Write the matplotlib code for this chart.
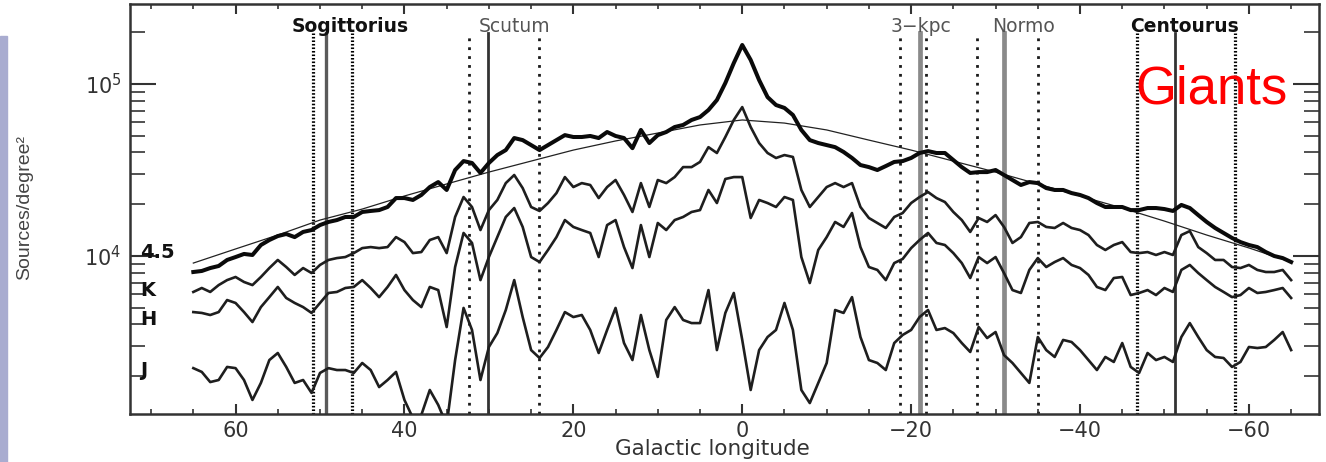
import numpy as np
import matplotlib
matplotlib.use('Agg')
import matplotlib.pyplot as plt
from matplotlib.ticker import MultipleLocator, LogLocator, NullFormatter
from matplotlib.patches import Rectangle

# galactic longitude of the profiles, read every 1 degree from l=65 to l=-65
lon = np.arange(65, -66, -1)

# log10(sources/degree^2)
log_45 = [3.907, 3.913, 3.930, 3.942, 3.977, 3.994, 4.012, 4.006, 4.064, 4.093,
          4.116, 4.128, 4.110, 4.140, 4.151, 4.180, 4.198, 4.209, 4.227, 4.227,
          4.256, 4.262, 4.267, 4.285, 4.337, 4.337, 4.326, 4.355, 4.401, 4.430,
          4.384, 4.500, 4.552, 4.541, 4.483, 4.541, 4.587, 4.616, 4.686, 4.674,
          4.645, 4.616, 4.645, 4.674, 4.703, 4.692, 4.692, 4.698, 4.686, 4.721,
          4.698, 4.686, 4.627, 4.733, 4.657, 4.703, 4.721, 4.750, 4.762, 4.791,
          4.808, 4.849, 4.907, 5.006, 5.122, 5.227, 5.140, 5.023, 4.924, 4.878,
          4.861, 4.820, 4.733, 4.674, 4.657, 4.645, 4.633, 4.605, 4.570, 4.529,
          4.517, 4.500, 4.523, 4.547, 4.552, 4.570, 4.599, 4.610, 4.599, 4.599,
          4.558, 4.517, 4.483, 4.488, 4.488, 4.500, 4.471, 4.442, 4.413, 4.430,
          4.424, 4.395, 4.384, 4.384, 4.366, 4.355, 4.337, 4.308, 4.285, 4.285,
          4.285, 4.267, 4.267, 4.279, 4.279, 4.273, 4.262, 4.297, 4.279, 4.238,
          4.198, 4.163, 4.134, 4.105, 4.081, 4.064, 4.052, 4.023, 4.000, 3.988,
          3.965]

log_k = [3.791, 3.814, 3.791, 3.831, 3.860, 3.878, 3.849, 3.831, 3.878, 3.930,
         3.977, 3.936, 3.890, 3.930, 3.901, 3.948, 3.977, 3.988, 3.994, 4.017,
         4.046, 4.052, 4.046, 4.052, 4.110, 4.081, 4.017, 4.023, 4.093, 4.110,
         4.017, 4.227, 4.343, 4.285, 4.151, 4.267, 4.326, 4.424, 4.471, 4.395,
         4.285, 4.262, 4.308, 4.366, 4.459, 4.401, 4.424, 4.413, 4.337, 4.401,
         4.442, 4.355, 4.256, 4.424, 4.285, 4.442, 4.424, 4.459, 4.517, 4.517,
         4.547, 4.633, 4.599, 4.692, 4.791, 4.866, 4.750, 4.657, 4.599, 4.570,
         4.587, 4.576, 4.384, 4.285, 4.343, 4.401, 4.424, 4.401, 4.424, 4.285,
         4.221, 4.192, 4.163, 4.227, 4.250, 4.308, 4.343, 4.372, 4.337, 4.314,
         4.256, 4.209, 4.140, 4.221, 4.198, 4.238, 4.169, 4.076, 4.110, 4.192,
         4.198, 4.169, 4.163, 4.192, 4.163, 4.151, 4.122, 4.064, 4.035, 4.064,
         4.081, 4.023, 4.017, 4.023, 4.006, 4.023, 4.006, 4.122, 4.145, 4.052,
         4.017, 3.977, 3.977, 3.936, 3.930, 3.948, 3.919, 3.907, 3.907, 3.919,
         3.860]

log_h = [3.674, 3.669, 3.657, 3.674, 3.744, 3.727, 3.674, 3.616, 3.703, 3.761,
         3.820, 3.756, 3.727, 3.703, 3.669, 3.727, 3.785, 3.791, 3.814, 3.820,
         3.860, 3.814, 3.761, 3.820, 3.890, 3.802, 3.744, 3.703, 3.820, 3.802,
         3.587, 3.936, 4.134, 4.076, 3.860, 3.994, 4.110, 4.227, 4.279, 4.169,
         3.994, 3.965, 4.035, 4.110, 4.209, 4.169, 4.151, 4.134, 3.994, 4.180,
         4.209, 4.052, 3.930, 4.180, 3.994, 4.192, 4.151, 4.209, 4.227, 4.256,
         4.267, 4.384, 4.308, 4.448, 4.459, 4.459, 4.221, 4.326, 4.308, 4.285,
         4.343, 4.326, 3.994, 3.843, 4.035, 4.110, 4.198, 4.169, 4.250, 4.052,
         3.936, 3.919, 3.860, 3.959, 3.983, 4.046, 4.093, 4.134, 4.076, 4.064,
         4.017, 3.959, 3.872, 3.994, 3.959, 3.994, 3.901, 3.802, 3.785, 3.919,
         3.988, 3.936, 3.965, 3.988, 3.948, 3.930, 3.890, 3.820, 3.802, 3.872,
         3.878, 3.773, 3.785, 3.802, 3.773, 3.814, 3.791, 3.919, 3.948, 3.901,
         3.860, 3.820, 3.791, 3.761, 3.773, 3.814, 3.785, 3.791, 3.802, 3.814,
         3.756]

log_j = [3.348, 3.326, 3.267, 3.279, 3.355, 3.348, 3.279, 3.163, 3.262, 3.395,
         3.436, 3.355, 3.262, 3.279, 3.204, 3.320, 3.348, 3.337, 3.337, 3.320,
         3.378, 3.337, 3.238, 3.279, 3.326, 3.163, 3.058, 3.076, 3.221, 3.134,
         3.018, 3.395, 3.698, 3.570, 3.279, 3.471, 3.552, 3.686, 3.860, 3.645,
         3.453, 3.407, 3.471, 3.570, 3.674, 3.645, 3.657, 3.570, 3.436, 3.570,
         3.698, 3.494, 3.395, 3.657, 3.453, 3.297, 3.628, 3.703, 3.628, 3.610,
         3.610, 3.802, 3.453, 3.669, 3.785, 3.512, 3.221, 3.453, 3.529, 3.570,
         3.727, 3.570, 3.221, 3.145, 3.262, 3.378, 3.686, 3.669, 3.761, 3.529,
         3.395, 3.378, 3.337, 3.494, 3.541, 3.570, 3.645, 3.686, 3.570, 3.581,
         3.552, 3.494, 3.442, 3.587, 3.523, 3.558, 3.424, 3.378, 3.320, 3.262,
         3.529, 3.453, 3.413, 3.512, 3.500, 3.453, 3.395, 3.337, 3.413, 3.384,
         3.494, 3.355, 3.320, 3.436, 3.395, 3.413, 3.384, 3.529, 3.610, 3.529,
         3.453, 3.413, 3.407, 3.355, 3.384, 3.471, 3.465, 3.471, 3.512, 3.558,
         3.453]

# smooth model curve
model_lon = [65, 60, 55, 50, 45, 40, 35, 30, 25, 20, 15, 10, 5, 0,
             -5, -10, -15, -20, -25, -30, -35, -40, -45, -50, -55, -60, -65]
log_model = [3.959, 4.041, 4.122, 4.209, 4.273, 4.349, 4.419, 4.488, 4.552,
             4.616, 4.669, 4.715, 4.762, 4.791, 4.773, 4.733, 4.674, 4.616,
             4.552, 4.488, 4.419, 4.349, 4.279, 4.203, 4.122, 4.047, 3.965]

# spiral arm tangents (solid) and their edges (dotted)
arm_names = ['Sogittorius', 'Scutum', '3\u2212kpc', 'Normo', 'Centourus']
arm_tangent = [49.3, 30.1, -21.0, -31.0, -51.2]
arm_edges = [(50.8, 46.2), (32.4, 24.1), (-18.7, -21.8), (-27.8, -35.0), (-46.8, -58.3)]

band_names = ['4.5', 'K', 'H', 'J']

# ---- styles / layout
label_lon = [46.4, 27.0, -21.2, -33.3, -52.4]
label_bold = [True, False, False, False, True]
solid_col = ['#5a5a5a', '#333333', '#8a8a8a', '#8a8a8a', '#333333']
solid_lw = [2.4, 2.0, 3.4, 3.4, 2.0]
dense_dots = [True, False, False, False, True]

fig = plt.figure(figsize=(13.26, 4.62), dpi=100)
fig.patches.append(Rectangle((0, 0), 7/1326, 426/462, transform=fig.transFigure,
                             color='#a9acd0', zorder=0))
ax = fig.add_axes([130/1326, 48/462, 1189/1326, 410/462])

for i in range(len(arm_names)):
    ax.axvline(arm_tangent[i], ymin=0, ymax=0.929, color=solid_col[i], lw=solid_lw[i], zorder=1)
    for e in arm_edges[i]:
        if dense_dots[i]:
            ax.axvline(e, ymin=0, ymax=0.929, color='#000000', lw=2.3,
                       linestyle=(0, (0.5, 0.6)), zorder=1)
        else:
            ax.axvline(e, ymin=0, ymax=0.929, color='#1a1a1a', lw=2.0,
                       linestyle=(0, (1, 2.2)), zorder=1)
    ax.text(label_lon[i], 0.944, arm_names[i], transform=ax.get_xaxis_transform(),
            ha='center', va='center', fontsize=13.5,
            fontweight='bold' if label_bold[i] else 'normal',
            color='#111111' if label_bold[i] else '#555555')

ax.plot(lon, 10**np.array(log_j), color='#1e1e1e', lw=1.9, zorder=3)
ax.plot(lon, 10**np.array(log_h), color='#1e1e1e', lw=1.9, zorder=3)
ax.plot(lon, 10**np.array(log_k), color='#1e1e1e', lw=1.9, zorder=3)
ax.plot(lon, 10**np.array(log_45), color='#0a0a0a', lw=2.9, zorder=4)
ax.plot(model_lon, 10**np.array(log_model), color='#222222', lw=0.9, zorder=3)

# band names at the left end of the curves
band_y = [10**4.023, 10**3.802, 10**3.632, 10**3.337]
for name, yv in zip(band_names, band_y):
    ax.text(71.3, yv, name, ha='left', va='center', fontsize=14,
            fontweight='bold', color='#111111')

ax.set_yscale('log')
ax.set_xlim(72.5, -68.3)
ax.set_ylim(1206, 2.92e5)

ax.xaxis.set_major_locator(MultipleLocator(20))
ax.xaxis.set_minor_locator(MultipleLocator(5))
ax.yaxis.set_major_locator(LogLocator(base=10, numticks=10))
ax.yaxis.set_minor_locator(LogLocator(base=10, subs=np.arange(2, 10), numticks=20))
ax.yaxis.set_minor_formatter(NullFormatter())

ax.tick_params(which='both', direction='in', top=True, right=True, colors='#333333')
ax.tick_params(axis='x', which='major', length=7, width=1.5, labelsize=15, pad=5)
ax.tick_params(axis='x', which='minor', length=3.5, width=1.2)
ax.tick_params(axis='y', which='major', length=19, width=1.5, labelsize=15, pad=6)
ax.tick_params(axis='y', which='minor', length=11, width=1.2)
for s in ax.spines.values():
    s.set_linewidth(1.8)
    s.set_color('#333333')

ax.set_xlabel('Galactic longitude', fontsize=15.5, color='#333333', va='center')
ax.xaxis.set_label_coords(0.49, -0.086)
fig.text(25/1326, 1-208/462, 'Sources/degree\u00b2', rotation=90, ha='center', va='center',
         fontsize=14, color='#444444', family=['Liberation Sans', 'DejaVu Sans'])

fig.text(1212/1326, 1-103/462, 'Giants', color='#ff0000', fontsize=38,
         ha='center', va='baseline', family=['Liberation Sans', 'DejaVu Sans'])

fig.savefig('out.png', dpi=100)
